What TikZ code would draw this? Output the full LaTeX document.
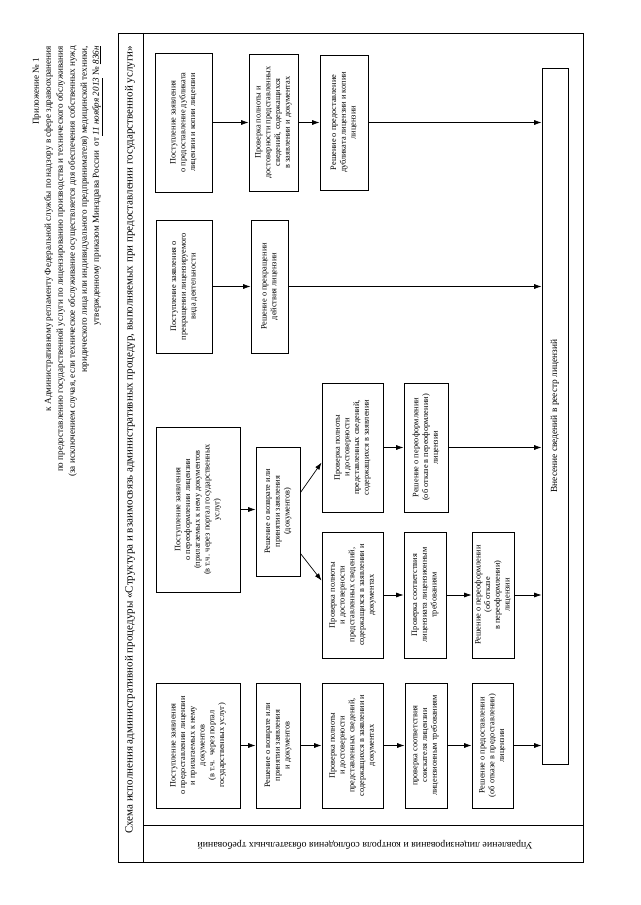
\documentclass[tikz,border=0pt]{standalone}
\usepackage{fontspec}
\setmainfont{Liberation Serif}
\usetikzlibrary{arrows.meta}
\tikzset{
  blk/.style   = {draw, line width=0.75pt, rotate=90, align=center, inner sep=1pt,
                  font=\fontsize{7.1}{8.3}\selectfont},
  sz/.style 2 args = {minimum width=#1*0.3mm, minimum height=#2*0.3mm},
  arr/.style   = {-{Latex[length=2.2mm,width=1.5mm]}, line width=0.6pt},
  frm/.style   = {line width=0.6pt},
  hdr/.style   = {rotate=90, align=right, inner sep=0pt,
                  font=\fontsize{7.8}{10.25}\selectfont},
}

\begin{document}
\begin{tikzpicture}[x=0.3mm,y=-0.3mm]
  \useasboundingbox (0,0) rectangle (640,905);
  % header
  \node[hdr,anchor=east] (head) at (68,46) {Приложение № 1\hspace*{3.5mm}\\
    к Административному регламенту Федеральной службы по надзору в сфере здравоохранения\\
    по предоставлению государственной услуги по лицензированию производства и технического обслуживания\\
    (за исключением случая, если техническое обслуживание осуществляется для обеспечения собственных нужд\\
    юридического лица или индивидуального предпринимателя) медицинской техники,\\
    утвержденному приказом Минздрава России \ от \underline{\textit{11 ноября 2013}} № \underline{\textit{836н}}};
  % frame
  \draw[frm] (118,33) rectangle (583,862);
  \draw[frm] (143,33) -- (143,862);
  \draw[frm] (143,825) -- (583,825);
  \node[rotate=90,font=\fontsize{9.4}{11}\selectfont] (title) at (130,440)
    {Схема исполнения административной процедуры «Структура и взаимосвязь административных процедур, выполняемых при предоставлении государственной услуги»};
  \node[rotate=180,font=\fontsize{8.5}{10}\selectfont] (dept) at (365,845)
    {Управление лицензирования и контроля соблюдения обязательных требований};
  % registry
  \node[blk,sz={696}{26},font=\fontsize{8}{9.5}\selectfont] (R) at (555,416) {Внесение сведений в реестр лицензий};
  % duplicate
  \node[blk,sz={139}{57}] (A1) at (183.5,122.5) {Поступление заявления\\ о предоставление дубликата\\ лицензии и копии лицензии};
  \node[blk,sz={137}{49}] (A2) at (273.5,122.5) {Проверка полноты и\\ достоверности представленных\\ сведений, содержащихся\\ в заявлении и документах};
  \node[blk,sz={135}{48}] (A3) at (344,122.5) {Решение о предоставление\\ дубликата лицензии и копии\\ лицензии};
  % termination
  \node[blk,sz={133}{56}] (B1) at (184,286.5) {Поступление заявления о\\ прекращении лицензируемого\\ вида деятельности};
  \node[blk,sz={133}{37}] (B2) at (269.5,286.5) {Решение о прекращении\\ действия лицензии};
  % reissue
  \node[blk,sz={165}{84}] (C1) at (198,509.5) {Поступление заявления\\ о переоформлении лицензии\\ (прилагаемых к нему документов\\ (в т.ч. через портал государственных\\ услуг)};
  \node[blk,sz={129}{44}] (C2) at (278,511.5) {Решение о возврате или\\ принятии заявления\\ (документов)};
  \node[blk,sz={129}{61}] (C3) at (352.5,447.5) {Проверка полноты\\ и достоверности\\ представленных сведений,\\ содержащихся в заявлении};
  \node[blk,sz={129}{44}] (C4) at (426,447.5) {Решение о переоформлении\\ (об отказе в переоформлении)\\ лицензии};
  \node[blk,sz={126}{61}] (C5) at (352.5,595) {Проверка полноты\\ и достоверности\\ представленных сведений,\\ содержащихся в заявлении и\\ документах};
  \node[blk,sz={126}{42}] (C6) at (425,595) {Проверка соответствия\\ лицензиата лицензионным\\ требованиям};
  \node[blk,sz={126}{42}] (C7) at (493,595) {Решение о переоформлении\\ (об отказе\\ в переоформлении)\\ лицензии};
  % grant
  \node[blk,sz={125}{84}] (D1) at (198,745.5) {Поступление заявления\\ о предоставлении лицензии\\ и прилагаемых к нему\\ документов\\ (в т.ч. \ через портал\\ государственных услуг)};
  \node[blk,sz={125}{44}] (D2) at (278,745.5) {Решение о возврате или\\ принятии заявления\\ и документов};
  \node[blk,sz={125}{61}] (D3) at (352.5,745.5) {Проверка полноты\\ и достоверности\\ представленных сведений,\\ содержащихся в заявлении и\\ документах};
  \node[blk,sz={125}{42}] (D4) at (426,745.5) {проверка соответствия\\ соискателя лицензии\\ лицензионным требованиям};
  \node[blk,sz={125}{41}] (D5) at (492.5,745.5) {Решение о предоставлении\\ (об отказе в предоставлении)\\ лицензии};
  % connectors
  \foreach \a/\b in {A1/A2, A2/A3, B1/B2, C3/C4, C5/C6, C6/C7, D1/D2, D2/D3, D3/D4, D4/D5}{
    \draw[arr] (\a.south) -- (\b.north);
  }
  \foreach \a in {A3, B2, C4, C7, D5}{
    \draw[arr] (\a.south) -- (\a.south -| R.north);
  }
  \draw[arr] (C1.south) -- (C1.south -| C2.north);
  \draw[arr] ([yshift=-13.8mm]C2.south east) -- ([yshift=-4.5mm]C3.north);
  \draw[arr] ([yshift=6.9mm]C2.south west) -- ([yshift=-14.7mm]C5.north east);
\end{tikzpicture}
\end{document}
